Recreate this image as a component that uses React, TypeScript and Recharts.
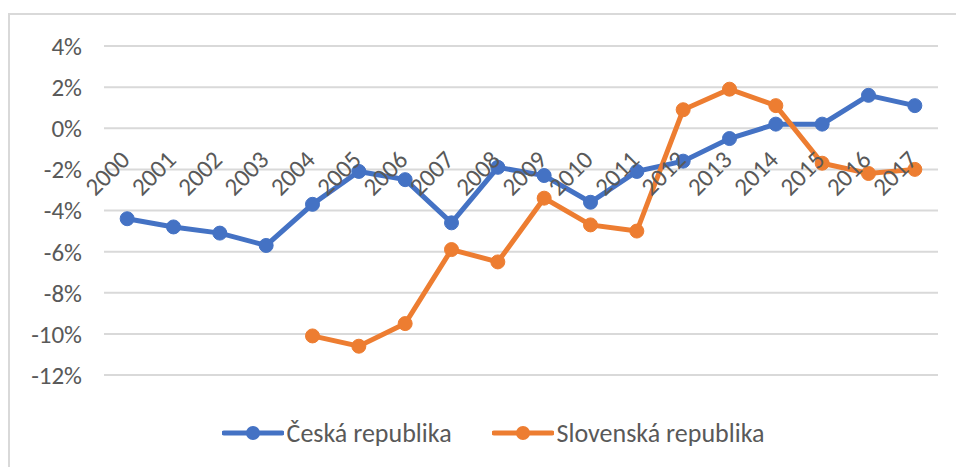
import { CartesianGrid, Line, LineChart, XAxis, YAxis } from "recharts";

const YEARS = [
  "2000", "2001", "2002", "2003", "2004", "2005", "2006", "2007", "2008",
  "2009", "2010", "2011", "2012", "2013", "2014", "2015", "2016", "2017",
];

// Česká republika
const CZ = [-4.4, -4.8, -5.1, -5.7, -3.7, -2.1, -2.5, -4.6, -1.9, -2.3, -3.6, -2.1, -1.6, -0.5, 0.2, 0.2, 1.6, 1.1];
// Slovenská republika (no data before 2004)
const SK = [null, null, null, null, -10.1, -10.6, -9.5, -5.9, -6.5, -3.4, -4.7, -5.0, 0.9, 1.9, 1.1, -1.7, -2.2, -2.0];

const Y_TICKS = [-12, -10, -8, -6, -4, -2, 0, 2, 4];

const BLUE = "#4472C4";
const ORANGE = "#ED7D31";
const TEXT = "#595959";
const GRID = "#D9D9D9";
const FONT = "Carlito, 'Liberation Sans Narrow', 'Open Sans', sans-serif";

const W = 956;
const H = 467;
const PLOT_TOP = 46;
const PLOT_BOTTOM = 375;
const PLOT_LEFT = 104;
const PLOT_RIGHT = 938;
const Y_AXIS_W = 60;
const X_AXIS_H = 2;
const Y_MIN = Y_TICKS[0];
const Y_MAX = Y_TICKS[Y_TICKS.length - 1];
// Excel puts the category labels next to the 0% line
const ZERO_Y = PLOT_TOP + ((PLOT_BOTTOM - PLOT_TOP) * Y_MAX) / (Y_MAX - Y_MIN);
const HALF_BAND = (PLOT_RIGHT - PLOT_LEFT) / YEARS.length / 2;

const data = YEARS.map((year, i) => ({ year, cz: CZ[i], sk: SK[i] }));

function YearTick({ x, payload }: { x: number; payload: { value: string } }) {
  const ax = x + 4;
  const ay = ZERO_Y + 33;
  return (
    <text
      x={ax}
      y={ay}
      textAnchor="end"
      transform={`rotate(-45 ${ax} ${ay})`}
      fill={TEXT}
      fontSize={25}
      fontFamily={FONT}
    >
      {payload.value}
    </text>
  );
}

function LegendItem({ color, label }: { color: string; label: string }) {
  return (
    <div style={{ display: "flex", alignItems: "center" }}>
      <svg width={62} height={20}>
        <line x1={2} y1={10} x2={60} y2={10} stroke={color} strokeWidth={5} strokeLinecap="round" />
        <circle cx={31} cy={10} r={7} fill={color} />
      </svg>
      <span style={{ marginLeft: 3, fontSize: 26, color: TEXT, fontFamily: FONT }}>{label}</span>
    </div>
  );
}

export default function App() {
  return (
    <div style={{ position: "fixed", left: 0, top: 0, width: W, height: H, background: "#fff", overflow: "hidden" }}>
      <div
        style={{
          position: "absolute",
          left: 8,
          top: 13,
          width: W + 20,
          height: H + 20,
          borderTop: `2px solid ${GRID}`,
          borderLeft: `2px solid ${GRID}`,
        }}
      />
      <div style={{ position: "absolute", left: 0, top: 0 }}>
        <LineChart
          width={W}
          height={H}
          data={data}
          margin={{
            top: PLOT_TOP,
            right: W - PLOT_RIGHT,
            bottom: H - PLOT_BOTTOM - X_AXIS_H,
            left: PLOT_LEFT - Y_AXIS_W,
          }}
        >
          <CartesianGrid vertical={false} stroke={GRID} strokeWidth={2} />
          <XAxis
            dataKey="year"
            height={X_AXIS_H}
            axisLine={false}
            tickLine={false}
            interval={0}
            padding={{ left: HALF_BAND, right: HALF_BAND }}
            tick={YearTick as any}
          />
          <YAxis
            width={Y_AXIS_W}
            domain={[Y_MIN, Y_MAX]}
            ticks={Y_TICKS}
            axisLine={false}
            tickLine={false}
            tickSize={0}
            tickMargin={22}
            tickFormatter={(v: number) => `${v}%`}
            tick={{ fill: TEXT, fontSize: 25, fontFamily: FONT }}
          />
          <Line
            dataKey="cz"
            name="Česká republika"
            stroke={BLUE}
            strokeWidth={5}
            dot={{ r: 7, fill: BLUE, stroke: BLUE, strokeWidth: 1 }}
            isAnimationActive={false}
          />
          <Line
            dataKey="sk"
            name="Slovenská republika"
            stroke={ORANGE}
            strokeWidth={5}
            dot={{ r: 7, fill: ORANGE, stroke: ORANGE, strokeWidth: 1 }}
            isAnimationActive={false}
          />
        </LineChart>
      </div>
      <div
        style={{
          position: "absolute",
          left: 15,
          top: 417,
          width: W,
          display: "flex",
          justifyContent: "center",
          gap: 40,
        }}
      >
        <LegendItem color={BLUE} label="Česká republika" />
        <LegendItem color={ORANGE} label="Slovenská republika" />
      </div>
    </div>
  );
}
